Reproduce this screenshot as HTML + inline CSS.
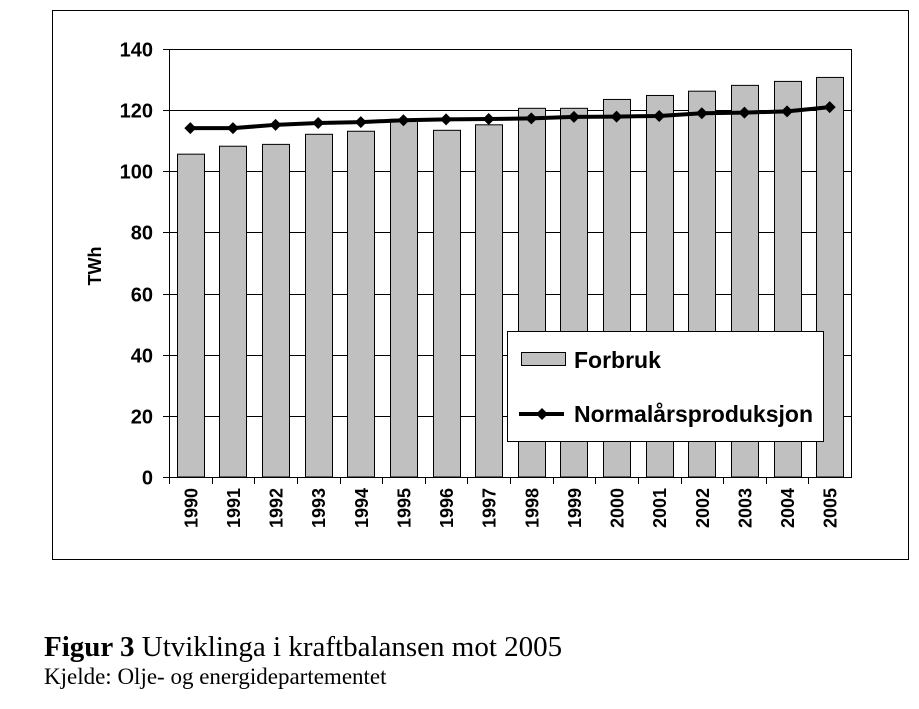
<!DOCTYPE html>
<html><head><meta charset="utf-8"><style>
body{margin:0;background:#fff;width:919px;height:709px;overflow:hidden}
svg{display:block}
</style></head><body>
<svg id="chart" width="919" height="709" xmlns="http://www.w3.org/2000/svg">
<rect x="52.5" y="10.5" width="856" height="549" fill="#fff" stroke="#000" stroke-width="1"/>
<g id="grid"></g><g id="bars"></g><g id="axes"></g><g id="line"></g>
<text x="101" y="266" transform="rotate(-90 101 266)" text-anchor="middle" font-family="Liberation Sans, sans-serif" font-weight="bold" font-size="18">TWh</text>
<g>
<rect x="507.5" y="331.5" width="316" height="110" fill="#fff" stroke="#000"/>
<rect x="521.5" y="352.5" width="44" height="13" fill="#c0c0c0" stroke="#000"/>
<text x="574" y="368" font-family="Liberation Sans, sans-serif" font-weight="bold" font-size="23">Forbruk</text>
<line x1="519" y1="414" x2="564" y2="414" stroke="#000" stroke-width="4"/>
<path d="M542 408 L548 414 L542 420 L536 414 Z" fill="#000"/>
<text x="574" y="422" font-family="Liberation Sans, sans-serif" font-weight="bold" font-size="23">Normalårsproduksjon</text>
</g>
<text x="44" y="656" font-family="Liberation Serif, serif" font-size="29"><tspan font-weight="bold">Figur 3</tspan> Utviklinga i kraftbalansen mot 2005</text>
<text x="44" y="684" font-family="Liberation Serif, serif" font-size="23">Kjelde: Olje- og energidepartementet</text>
</svg>
<script>
const years=["1990","1991","1992","1993","1994","1995","1996","1997","1998","1999","2000","2001","2002","2003","2004","2005"];
const forbruk=[105.6,108.2,108.8,112.1,113.1,117.0,113.4,115.2,120.6,120.6,123.5,124.8,126.2,128.1,129.4,130.7];
const normal=[114.1,114.1,115.2,115.8,116.1,116.7,117.0,117.1,117.3,117.8,117.9,118.1,119.0,119.2,119.6,121.0];
const yTicks=[0,20,40,60,80,100,120,140];
const NS="http://www.w3.org/2000/svg";
const L=169,R=851,T=49,B=477,yMax=140;
const step=(R-L)/years.length;
const y=v=>B-(v/yMax)*(B-T);
const xc=i=>L+step*(i+0.5);
function mk(tag,attrs,parent){const e=document.createElementNS(NS,tag);for(const k in attrs)e.setAttribute(k,attrs[k]);document.getElementById(parent).appendChild(e);return e;}
yTicks.forEach(t=>{
 const yy=Math.round(y(t))+0.5;
 if(t>0){const g=mk('line',{x1:L,x2:R,y1:yy,y2:yy,stroke:'#000','stroke-width':1},'grid');
 
 }
 const tk=mk('line',{x1:L-6,x2:L,y1:yy,y2:yy,stroke:'#000'},'axes');
 
 
 const tx=mk('text',{x:L-16,y:yy+7,'text-anchor':'end','font-family':'Liberation Sans, sans-serif','font-weight':'bold','font-size':20},'axes');
 tx.textContent=t;
 
 
});
mk('rect',{x:L+0.5,y:T+0.5,width:R-L,height:B-T,fill:'none',stroke:'#000'},'axes');
years.forEach((yr,i)=>{
 const bw=27;
 const b=mk('rect',{x:Math.round(xc(i)-bw/2)+0.5,y:y(forbruk[i]),width:bw,height:B-y(forbruk[i]),fill:'#c0c0c0',stroke:'#000','stroke-width':1},'bars');
 
 
 const xt=Math.round(L+step*i)+0.5;
 const tk=mk('line',{x1:xt,x2:xt,y1:B,y2:B+7,stroke:'#000'},'axes');
 
 
 const tx=mk('text',{x:0,y:0,transform:`translate(${xc(i)+7},${B+11}) rotate(-90)`,'text-anchor':'end','font-family':'Liberation Sans, sans-serif','font-weight':'bold','font-size':18},'axes');
 tx.textContent=yr;
 
 
});
const pts=normal.map((v,i)=>xc(i)+','+y(v)).join(' ');
const pl=mk('polyline',{points:pts,fill:'none',stroke:'#000','stroke-width':4},'line');


normal.forEach((v,i)=>{
 const cx=xc(i),cy=y(v);
 const m=mk('path',{d:`M${cx} ${cy-6} L${cx+6} ${cy} L${cx} ${cy+6} L${cx-6} ${cy} Z`,fill:'#000'},'line');
 
 
});
</script>
</body></html>
